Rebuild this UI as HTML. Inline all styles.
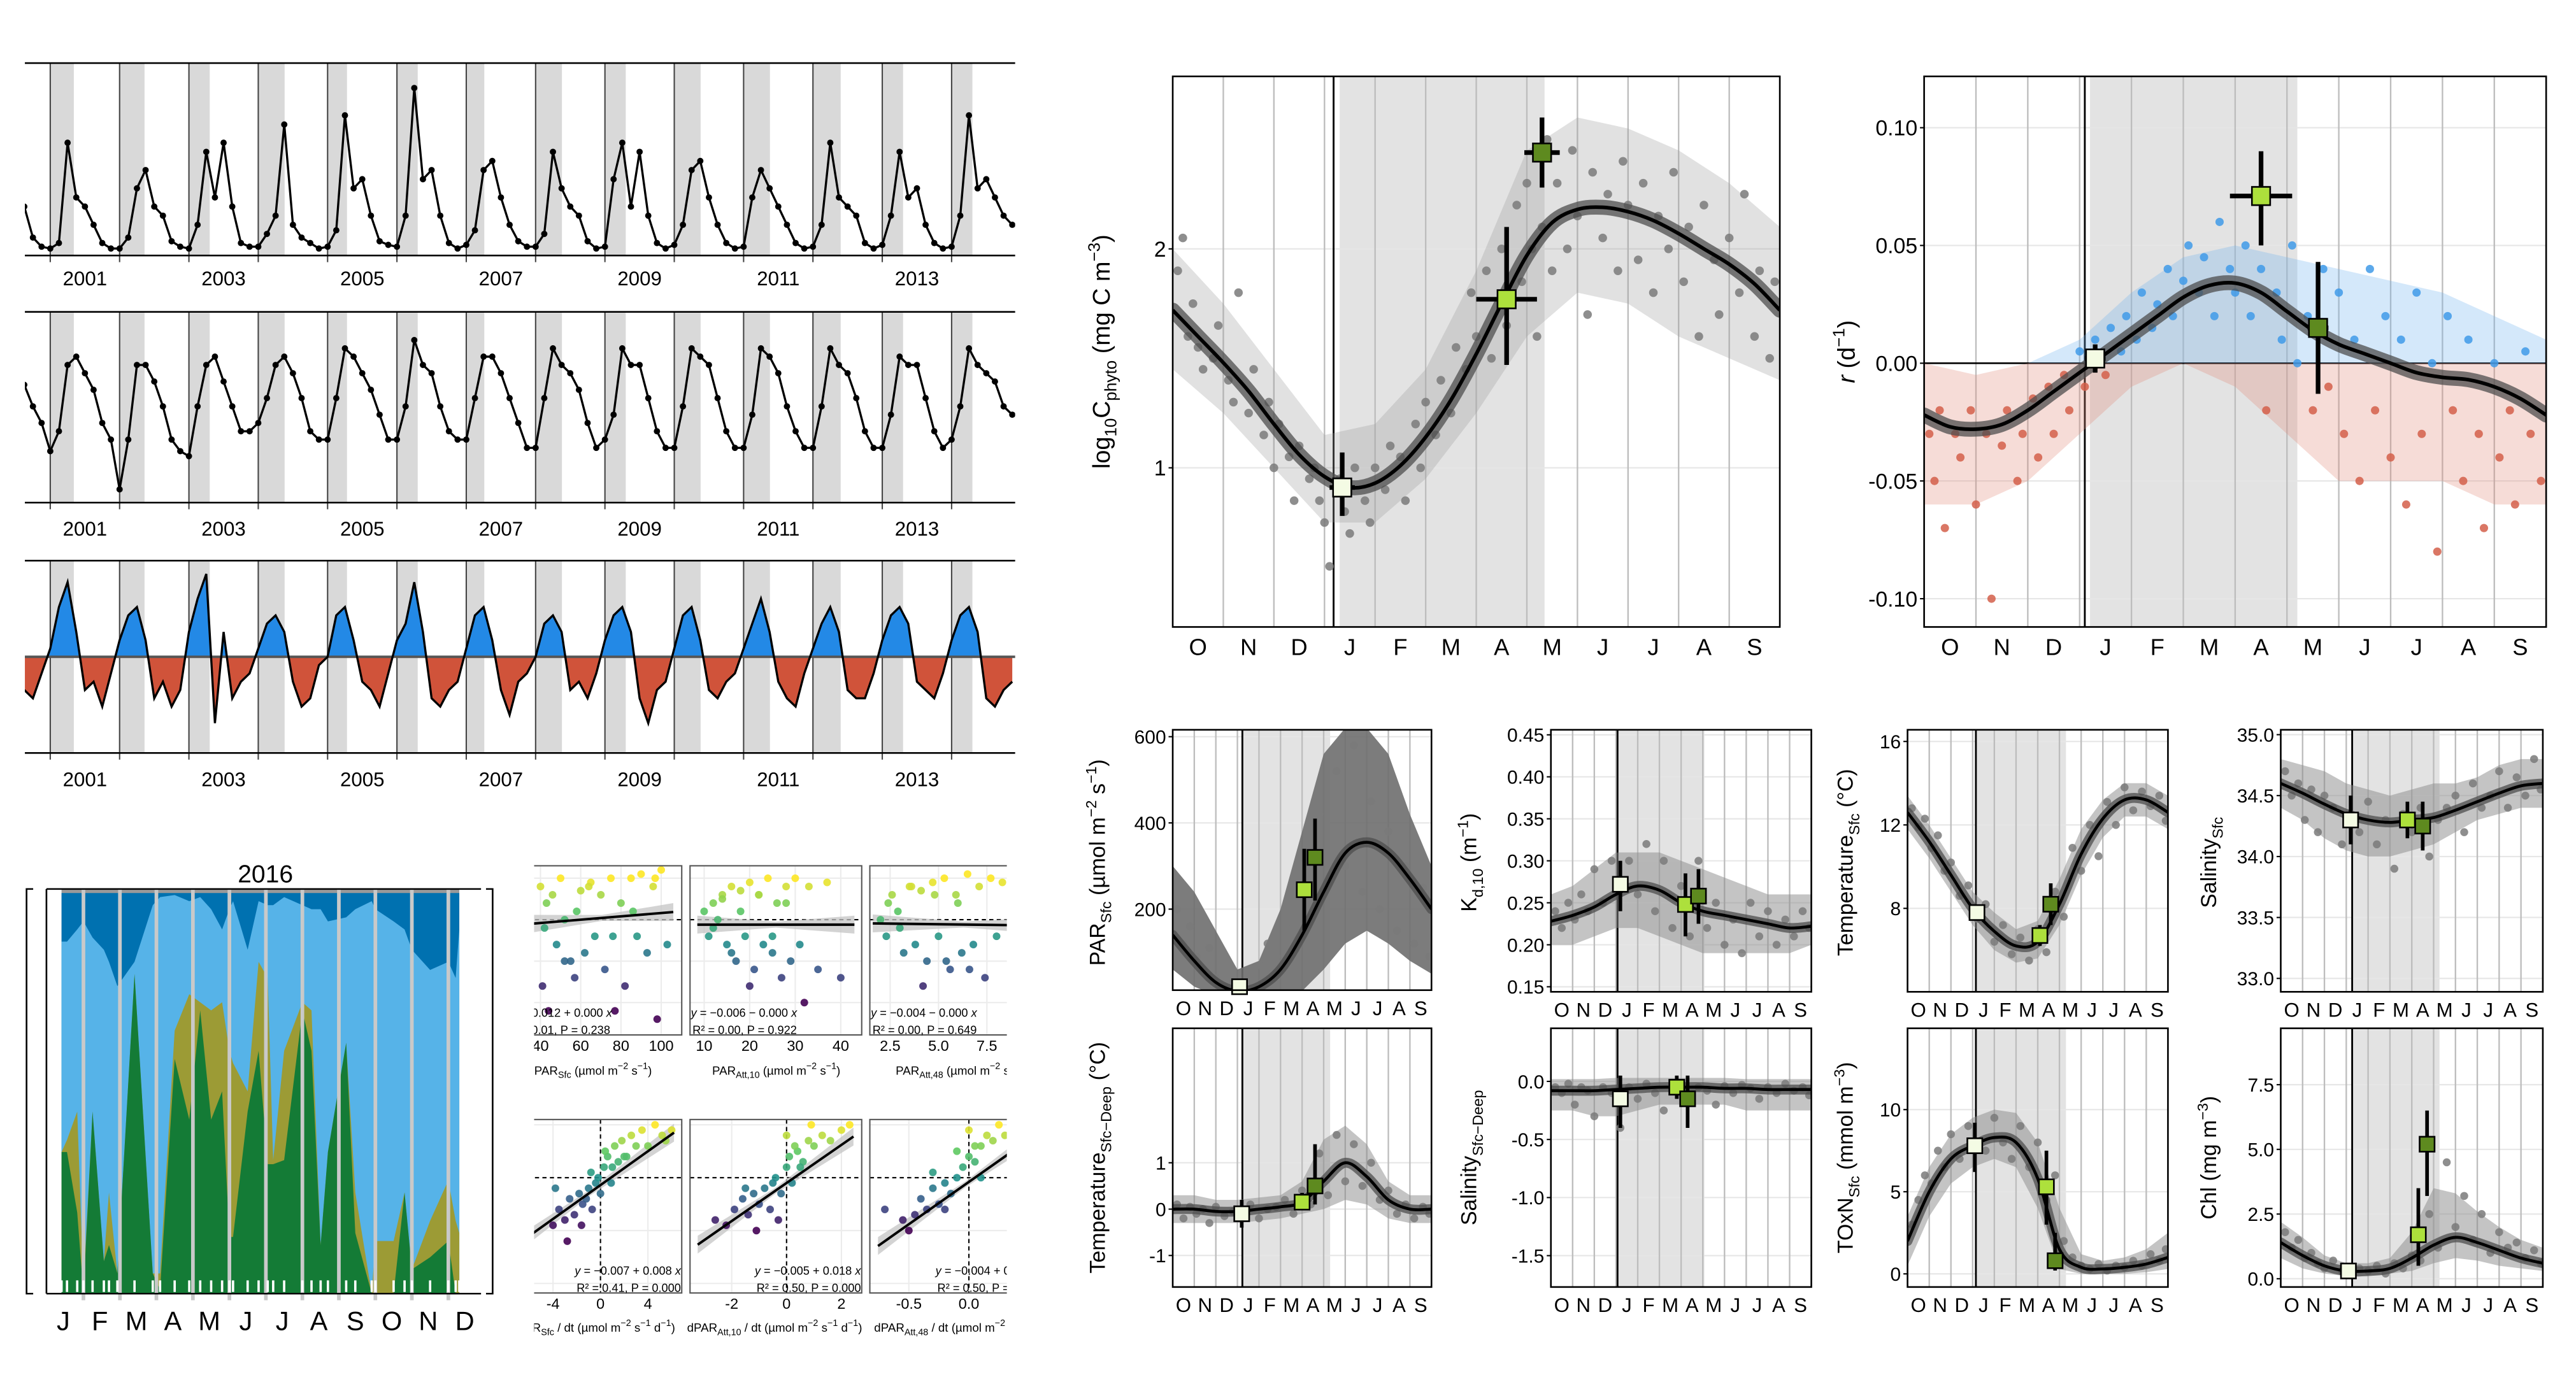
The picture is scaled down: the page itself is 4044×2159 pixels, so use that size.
<!DOCTYPE html>
<html><head><meta charset="utf-8"><title>Phytoplankton seasonal figure</title>
<style>
html,body{margin:0;padding:0;background:#fff;}
svg{display:block;font-family:"Liberation Sans",sans-serif;}
</style></head>
<body>
<svg id="fig" xmlns="http://www.w3.org/2000/svg" width="4044" height="2159" viewBox="0 0 1553 829">
<rect x="0" y="0" width="1553" height="829" fill="#fff"/>
<defs>
<clipPath id="clipMid"><rect x="322" y="500" width="285" height="320"/></clipPath>
</defs>
<text x="160" y="532" font-size="15" text-anchor="middle">2016</text>
<text transform="translate(669,212) rotate(-90)" font-size="14.5" text-anchor="middle">log<tspan font-size="10" dy="4">10</tspan><tspan dy="-4">C</tspan><tspan font-size="10" dy="4">phyto</tspan><tspan dy="-4"> (mg C m</tspan><tspan font-size="10" dy="-6">−3</tspan><tspan dy="6">)</tspan></text>
<text transform="translate(1118,212) rotate(-90)" font-size="14.5" text-anchor="middle"><tspan font-style="italic">r</tspan> (d<tspan font-size="10" dy="-6">−1</tspan><tspan dy="6">)</tspan></text>
<text transform="translate(666,520) rotate(-90)" font-size="13" text-anchor="middle">PAR<tspan font-size="9" dy="4">Sfc</tspan><tspan dy="-4"> (µmol m</tspan><tspan font-size="9" dy="-5">−2</tspan><tspan dy="5"> s</tspan><tspan font-size="9" dy="-5">−1</tspan><tspan dy="5">)</tspan></text>
<text transform="translate(890,520) rotate(-90)" font-size="13" text-anchor="middle">K<tspan font-size="9" dy="4">d,10</tspan><tspan dy="-4"> (m</tspan><tspan font-size="9" dy="-5">−1</tspan><tspan dy="5">)</tspan></text>
<text transform="translate(1117,520) rotate(-90)" font-size="13" text-anchor="middle">Temperature<tspan font-size="9" dy="4">Sfc</tspan><tspan dy="-4"> (°C)</tspan></text>
<text transform="translate(1336,520) rotate(-90)" font-size="13" text-anchor="middle">Salinity<tspan font-size="9" dy="4">Sfc</tspan></text>
<text transform="translate(666,698) rotate(-90)" font-size="13" text-anchor="middle">Temperature<tspan font-size="9" dy="4">Sfc−Deep</tspan><tspan dy="-4"> (°C)</tspan></text>
<text transform="translate(890,698) rotate(-90)" font-size="13" text-anchor="middle">Salinity<tspan font-size="9" dy="4">Sfc−Deep</tspan></text>
<text transform="translate(1117,698) rotate(-90)" font-size="13" text-anchor="middle">TOxN<tspan font-size="9" dy="4">Sfc</tspan><tspan dy="-4"> (mmol m</tspan><tspan font-size="9" dy="-5">−3</tspan><tspan dy="5">)</tspan></text>
<text transform="translate(1336,698) rotate(-90)" font-size="13" text-anchor="middle">Chl (mg m<tspan font-size="9" dy="-5">−3</tspan><tspan dy="5">)</tspan></text>
<g id="midLabels" clip-path="url(#clipMid)" font-size="7.2">
<text x="393" y="648" text-anchor="end">PAR<tspan font-size="5.5" dy="2">Sfc</tspan><tspan dy="-2"> (µmol m</tspan><tspan font-size="5.5" dy="-3.5">−2</tspan><tspan dy="3.5"> s</tspan><tspan font-size="5.5" dy="-3.5">−1</tspan><tspan dy="3.5">)</tspan></text>
<text x="468" y="648" text-anchor="middle">PAR<tspan font-size="5.5" dy="2">Att,10</tspan><tspan dy="-2"> (µmol m</tspan><tspan font-size="5.5" dy="-3.5">−2</tspan><tspan dy="3.5"> s</tspan><tspan font-size="5.5" dy="-3.5">−1</tspan><tspan dy="3.5">)</tspan></text>
<text x="540" y="648">PAR<tspan font-size="5.5" dy="2">Att,48</tspan><tspan dy="-2"> (µmol m</tspan><tspan font-size="5.5" dy="-3.5">−2</tspan><tspan dy="3.5"> s</tspan><tspan font-size="5.5" dy="-3.5">−1</tspan><tspan dy="3.5">)</tspan></text>
<text x="407" y="803" text-anchor="end">dPAR<tspan font-size="5.5" dy="2">Sfc</tspan><tspan dy="-2"> / dt (µmol m</tspan><tspan font-size="5.5" dy="-3.5">−2</tspan><tspan dy="3.5"> s</tspan><tspan font-size="5.5" dy="-3.5">−1</tspan><tspan dy="3.5"> d</tspan><tspan font-size="5.5" dy="-3.5">−1</tspan><tspan dy="3.5">)</tspan></text>
<text x="467" y="803" text-anchor="middle">dPAR<tspan font-size="5.5" dy="2">Att,10</tspan><tspan dy="-2"> / dt (µmol m</tspan><tspan font-size="5.5" dy="-3.5">−2</tspan><tspan dy="3.5"> s</tspan><tspan font-size="5.5" dy="-3.5">−1</tspan><tspan dy="3.5"> d</tspan><tspan font-size="5.5" dy="-3.5">−1</tspan><tspan dy="3.5">)</tspan></text>
<text x="527" y="803">dPAR<tspan font-size="5.5" dy="2">Att,48</tspan><tspan dy="-2"> / dt (µmol m</tspan><tspan font-size="5.5" dy="-3.5">−2</tspan><tspan dy="3.5"> s</tspan><tspan font-size="5.5" dy="-3.5">−1</tspan><tspan dy="3.5"> d</tspan><tspan font-size="5.5" dy="-3.5">−1</tspan><tspan dy="3.5">)</tspan></text>
</g>
<g id="eqLabels" clip-path="url(#clipMid)" font-size="7">
<text x="305" y="613"><tspan font-style="italic">y</tspan> = −0.012 + 0.000 <tspan font-style="italic">x</tspan></text>
<text x="305" y="623.5">R² = 0.01, P = 0.238</text>
<text x="416.5" y="613"><tspan font-style="italic">y</tspan> = −0.006 − 0.000 <tspan font-style="italic">x</tspan></text>
<text x="417.5" y="623.5">R² = 0.00, P = 0.922</text>
<text x="525" y="613"><tspan font-style="italic">y</tspan> = −0.004 − 0.000 <tspan font-style="italic">x</tspan></text>
<text x="526" y="623.5">R² = 0.00, P = 0.649</text>
<text x="410.5" y="768.5" text-anchor="end"><tspan font-style="italic">y</tspan> = −0.007 + 0.008 <tspan font-style="italic">x</tspan></text>
<text x="410.5" y="779" text-anchor="end">R² = 0.41, P = 0.000</text>
<text x="519" y="768.5" text-anchor="end"><tspan font-style="italic">y</tspan> = −0.005 + 0.018 <tspan font-style="italic">x</tspan></text>
<text x="519" y="779" text-anchor="end">R² = 0.50, P = 0.000</text>
<text x="628" y="768.5" text-anchor="end"><tspan font-style="italic">y</tspan> = −0.004 + 0.080 <tspan font-style="italic">x</tspan></text>
<text x="628" y="779" text-anchor="end">R² = 0.50, P = 0.000</text>
</g>
</svg>
<script>
// ===== DATA =====
const tsStart = 0.625;
const tsStep = 0.125;
const tsChl = [.25,.08,.03,
 .02,.05,.6,.3,.25,.15,.05,.02, .02,.08,.35,.45,.25,.2,.06,.03, .02,.15,.55,.3,.6,.25,.05,.03,
 .03,.1,.2,.7,.15,.08,.05,.02, .03,.12,.75,.35,.4,.2,.06,.04, .03,.2,.9,.4,.45,.2,.05,.02,
 .04,.12,.45,.5,.3,.15,.06,.03, .03,.1,.55,.35,.25,.2,.06,.02, .03,.4,.6,.25,.55,.2,.05,.02,
 .04,.15,.45,.5,.3,.15,.05,.02, .03,.3,.45,.35,.25,.15,.05,.02, .03,.15,.6,.3,.25,.2,.05,.02,
 .04,.2,.55,.3,.35,.15,.05,.02, .03,.2,.75,.35,.4,.3,.2,.15];
const tsLog = [.68,.55,.45,
 .28,.4,.8,.85,.75,.65,.45,.35, .05,.35,.8,.8,.7,.55,.35,.28, .25,.55,.8,.85,.7,.55,.4,.4,
 .45,.6,.8,.85,.75,.6,.4,.35, .35,.6,.9,.85,.75,.65,.5,.35, .35,.55,.95,.8,.75,.55,.4,.35,
 .35,.6,.85,.85,.75,.6,.45,.3, .3,.6,.9,.8,.75,.65,.45,.3, .35,.5,.9,.8,.8,.6,.4,.3,
 .3,.55,.9,.85,.8,.6,.4,.3, .3,.5,.9,.85,.75,.55,.4,.3, .3,.55,.9,.8,.75,.6,.4,.3,
 .3,.5,.85,.8,.8,.6,.4,.3, .35,.55,.9,.8,.75,.7,.55,.5];
const tsRate = [-.4,-.5,-.2,
 .1,.6,.9,.3,-.4,-.3,-.6,-.2, .2,.5,.6,.2,-.5,-.3,-.6,-.4, .3,.7,1.0,-.8,.3,-.5,-.3,-.2,
 .1,.4,.5,.3,-.3,-.6,-.5,-.1, .0,.5,.6,.2,-.3,-.4,-.6,-.2, .2,.4,.9,.3,-.5,-.6,-.4,-.3,
 .1,.5,.6,.2,-.4,-.7,-.3,-.2, .0,.4,.5,.3,-.4,-.3,-.5,-.2, .2,.5,.6,.3,-.5,-.8,-.4,-.3,
 .1,.5,.6,.2,-.4,-.5,-.3,-.2, .1,.4,.7,.3,-.3,-.5,-.6,-.2, .1,.4,.6,.3,-.4,-.5,-.5,-.2,
 .2,.5,.6,.4,-.3,-.4,-.5,-.2, .2,.5,.6,.3,-.5,-.6,-.4,-.3];
const tsYears = [2001,2002,2003,2004,2005,2006,2007,2008,2009,2010,2011,2012,2013,2014];
const tsBandLen = [0.34,0.36,0.3,0.38,0.28,0.3,0.26,0.38,0.3,0.38,0.38,0.4,0.3,0.3];
const tsYearLabels = ['2001','2003','2005','2007','2009','2011','2013'];

const areaM = [0.4,0.55,0.83,1.0,1.25,1.56,1.7,1.93,2.4,2.9,3.1,3.5,3.9,4.2,4.5,4.8,5.0,5.1,5.5,5.8,6.05,6.2,6.5,7.0,7.25,7.5,7.7,8.2,8.45,8.9,9.0,9.5,9.8,10.0,10.5,11.0,11.2,11.3];
const areaG = [.35,.35,.2,0,.45,.08,.12,.05,.79,.05,.01,.58,.43,.7,.43,.5,.14,.14,.45,.6,.32,.32,.33,.7,.6,.12,.35,.62,.15,0,0,0,.25,.06,.09,.13,0,0];
const areaO = [.35,.38,.45,.02,.45,.08,.25,.05,.79,.05,.05,.65,.74,.72,.7,.72,.6,.57,.5,.82,.78,.33,.6,.72,.7,.12,.35,.62,.25,0,.13,.13,.25,.06,.18,.28,.18,.15];
const areaLB = [.87,.87,.9,.92,.88,.85,.82,.76,.82,.96,.98,.985,.97,.98,.95,.9,.95,.97,.85,.97,.96,.96,.98,.96,.95,.95,.92,.93,.95,.97,.95,.92,.9,.85,.8,.82,.78,.9];
const areaMonthLabels = ['J','F','M','A','M','J','J','A','S','O','N','D'];

const sc1x=[40,42,44,46,48,50,52,55,57,60,62,65,67,70,72,75,77,80,82,85,88,90,93,96,98,100,103,41,43,58,76,97,52,64,86];
const sc1y=[0.04,-0.01,-0.11,0.03,-0.03,0.05,0.0,-0.05,-0.07,0.035,-0.04,0.045,-0.02,0.03,-0.06,0.05,-0.11,0.02,-0.08,0.05,-0.02,0.055,-0.04,0.04,-0.12,0.06,-0.03,-0.08,0.02,0.01,-0.02,0.05,-0.05,0.04,0.01];
const sc2x=[10,11,12,13,14,15,16,17,18,19,20,21,22,23,24,25,26,27,28,29,30,31,33,35,37,40,12,14,16,18,20,22,25,28,32];
const sc2y=[0.01,-0.02,0.02,0.0,0.03,-0.03,0.04,-0.05,0.035,-0.02,0.045,-0.06,0.03,-0.03,0.05,-0.04,0.02,-0.07,0.04,-0.05,0.05,-0.03,0.04,-0.06,0.045,-0.07,-0.01,0.025,-0.04,0.01,-0.08,0.03,-0.02,0.02,-0.1];
const sc3x=[2.0,2.3,2.6,2.9,3.2,3.5,3.8,4.1,4.4,4.7,5.0,5.3,5.6,5.9,6.2,6.5,6.8,7.1,7.4,7.7,8.0,8.3,2.4,3.0,3.6,4.2,4.8,5.4,6.0,6.6];
const sc3y=[0.0,-0.02,0.03,0.01,-0.04,0.04,-0.03,0.035,-0.05,0.045,-0.02,0.05,-0.06,0.03,-0.04,0.055,-0.03,0.04,-0.07,0.05,-0.02,0.045,0.02,-0.01,0.04,-0.08,0.03,-0.05,0.02,-0.06];
const sc4x=[-4,-3.5,-3,-2.6,-2.2,-1.8,-1.5,-1.2,-1,-0.7,-0.4,-0.2,0,0.3,0.6,0.9,1.2,1.5,1.8,2.2,2.6,3,3.5,4,4.6,5.2,6,-2.8,-1.6,-0.8,0.4,1.0,2.0,-3.8,5.5];
const sc4y=[-0.045,-0.03,-0.04,-0.02,-0.035,-0.015,-0.025,-0.02,-0.01,-0.03,-0.005,0.0,-0.015,0.01,0.02,-0.005,0.03,0.015,0.035,0.02,0.04,0.03,0.045,0.03,0.05,0.04,0.045,-0.06,-0.045,0.005,0.025,0.01,0.02,-0.01,0.035];
const sc5x=[-2.6,-2.2,-1.9,-1.6,-1.4,-1.2,-1.0,-0.8,-0.6,-0.4,-0.2,0,0.1,0.2,0.4,0.6,0.8,1.0,1.3,1.6,2.0,2.3,-1.1,-0.5,0.0,0.3,0.5,0.9,-1.5,-0.3];
const sc5y=[-0.04,-0.045,-0.03,-0.02,-0.035,-0.015,-0.025,-0.01,-0.03,0.0,-0.015,0.01,0.02,-0.005,0.025,0.015,0.035,0.03,0.04,0.035,0.045,0.05,-0.05,-0.005,0.04,0.03,0.01,0.05,-0.01,-0.04];
const sc6x=[-0.7,-0.55,-0.45,-0.4,-0.35,-0.3,-0.25,-0.2,-0.15,-0.1,-0.05,0,0.05,0.1,0.15,0.2,0.25,0.3,-0.3,-0.2,-0.1,0.0,0.1,-0.5,0.05];
const sc6y=[-0.03,-0.04,-0.035,-0.02,-0.03,-0.01,-0.025,-0.005,-0.015,0.0,0.01,0.02,0.015,0.03,0.04,0.035,0.05,0.04,0.005,-0.03,0.025,0.045,0.0,-0.05,0.03];
const regInt = [-0.012,-0.006,-0.004,-0.007,-0.005,-0.004];
const regSlope = [0.0002,0.0,-0.0003,0.008,0.018,0.08];

const monthLabels = ['O','N','D','J','F','M','A','M','J','J','A','S'];
const curveM = [0,1,2,3,4,5,6,7,8,9,10,11,12];
const bigCurveM = [0,0.5,1,1.5,2,2.5,3,3.5,4,4.5,5,5.5,6,6.5,7,7.5,8,8.5,9,9.5,10,10.5,11,11.5,12];
const cphytoCurve = [1.72,1.6,1.48,1.35,1.2,1.06,0.96,0.91,0.93,1.01,1.14,1.31,1.52,1.75,1.97,2.12,2.18,2.19,2.17,2.13,2.07,2.0,1.93,1.84,1.72];
const cphytoLo = [1.45,1.25,1.0,0.75,0.75,0.95,1.25,1.6,1.8,1.75,1.6,1.5,1.4];
const cphytoHi = [2.0,1.75,1.45,1.15,1.2,1.45,1.9,2.45,2.6,2.55,2.45,2.3,2.1];
const cphytoX = [0.1,0.2,0.3,0.4,0.5,0.6,0.8,0.9,1.1,1.2,1.3,1.5,1.6,1.8,1.9,2.0,2.1,2.3,2.4,2.5,2.7,2.8,2.9,3.0,3.1,3.3,3.4,3.5,3.6,3.8,3.9,4.0,4.2,4.3,4.5,4.6,4.8,4.9,5.0,5.2,5.3,5.5,5.6,5.8,5.9,6.0,6.2,6.3,6.5,6.6,6.8,6.9,7.0,7.1,7.2,7.3,7.4,7.5,7.6,7.8,7.9,8.0,8.2,8.3,8.5,8.6,8.8,8.9,9.0,9.2,9.3,9.5,9.6,9.8,9.9,10.1,10.2,10.4,10.5,10.7,10.8,11.0,11.2,11.3,11.5,11.6,11.8,11.9];
const cphytoY = [1.9,2.05,1.6,1.75,1.55,1.45,1.5,1.65,1.4,1.3,1.8,1.25,1.45,1.15,1.3,1.0,1.2,1.05,0.85,1.1,0.95,1.0,0.85,0.75,0.55,0.95,0.8,0.7,1.0,0.85,0.75,1.0,0.9,1.1,1.05,0.85,1.2,1.0,1.3,1.15,1.4,1.25,1.55,1.45,1.8,1.6,1.9,1.5,2.0,1.65,2.2,1.85,2.3,2.0,1.6,2.1,2.5,1.9,2.3,2.0,2.45,2.15,1.7,2.35,2.05,2.25,1.9,2.4,2.2,1.95,2.3,1.8,2.15,2.0,2.35,1.85,2.1,1.6,2.2,1.95,1.7,2.05,1.8,2.25,1.6,1.9,1.5,1.85];
const cphytoMarkM=[3.35,6.6,7.3], cphytoMarkV=[0.91,1.77,2.44], cphytoMarkXE=[0.25,0.6,0.35], cphytoMarkLo=[0.78,1.47,2.28], cphytoMarkHi=[1.07,2.1,2.6];
const rCurve = [-0.022,-0.027,-0.028,-0.026,-0.02,-0.012,-0.004,0.004,0.012,0.02,0.028,0.033,0.034,0.03,0.022,0.014,0.008,0.004,0.0,-0.004,-0.006,-0.007,-0.01,-0.015,-0.022];
const rLo = [-0.06,-0.06,-0.05,-0.03,-0.01,0.0,-0.01,-0.03,-0.05,-0.05,-0.05,-0.06,-0.06];
const rHi = [0.0,-0.005,0.0,0.01,0.03,0.045,0.05,0.045,0.04,0.035,0.03,0.02,0.01];
const rX = [0.1,0.2,0.3,0.4,0.6,0.7,0.9,1.0,1.2,1.3,1.5,1.6,1.8,1.9,2.1,2.2,2.4,2.5,2.7,2.8,3.0,3.1,3.3,3.5,3.6,3.8,3.9,4.1,4.2,4.4,4.5,4.7,4.8,5.0,5.1,5.3,5.4,5.6,5.7,5.9,6.0,6.2,6.3,6.5,6.6,6.8,6.9,7.1,7.2,7.4,7.5,7.7,7.8,8.0,8.1,8.3,8.4,8.6,8.7,8.9,9.0,9.2,9.3,9.5,9.6,9.8,9.9,10.1,10.2,10.4,10.5,10.7,10.8,11.0,11.1,11.3,11.4,11.6,11.7,11.9];
const rY = [-0.03,-0.05,-0.02,-0.07,-0.03,-0.04,-0.02,-0.06,-0.03,-0.1,-0.035,-0.02,-0.05,-0.03,-0.015,-0.04,-0.01,-0.03,-0.005,-0.02,0.005,-0.01,0.01,-0.005,0.015,0.005,0.02,0.01,0.03,0.015,0.025,0.04,0.02,0.035,0.05,0.03,0.045,0.02,0.06,0.04,0.03,0.05,0.02,0.04,-0.02,0.03,0.01,0.05,0.0,0.02,-0.02,0.04,-0.01,0.03,-0.03,0.01,-0.05,0.04,-0.02,0.02,-0.04,0.01,-0.06,0.03,-0.03,0.0,-0.08,0.02,-0.02,-0.05,0.01,-0.03,-0.07,0.0,-0.04,-0.02,-0.06,0.005,-0.03,-0.05];
const rMarkM=[3.3,6.5,7.6], rMarkV=[0.002,0.071,0.015], rMarkXE=[0.2,0.6,0.2], rMarkLo=[-0.004,0.05,-0.013], rMarkHi=[0.008,0.09,0.043];

const smallM = [0.2,0.5,0.8,1.1,1.4,1.7,2.0,2.4,2.8,3.2,3.6,4.0,4.4,4.8,5.2,5.6,6.0,6.4,6.8,7.2,7.6,8.0,8.4,8.8,9.2,9.6,10.0,10.4,10.8,11.2,11.6,11.9];
const parY=[200,120,160,90,60,110,40,20,30,10,30,70,120,90,200,160,300,220,420,260,520,300,580,240,450,200,380,150,300,120,250,90];
const parCurve=[140,80,30,10,20,60,140,240,330,355,330,270,200];
const parLo=[60,20,0,0,0,0,10,60,120,150,120,80,50];
const parHi=[300,240,150,60,80,200,380,560,620,620,560,420,300];
const kdY=[0.24,0.22,0.25,0.23,0.26,0.24,0.29,0.25,0.3,0.27,0.3,0.26,0.32,0.24,0.3,0.22,0.27,0.21,0.3,0.22,0.25,0.2,0.23,0.19,0.25,0.21,0.24,0.2,0.23,0.21,0.24,0.22];
const kdCurve=[0.228,0.235,0.245,0.26,0.27,0.265,0.25,0.24,0.235,0.23,0.225,0.22,0.222];
const kdLo=[0.2,0.2,0.21,0.22,0.22,0.21,0.2,0.19,0.19,0.19,0.19,0.19,0.2];
const kdHi=[0.26,0.27,0.29,0.31,0.31,0.31,0.3,0.29,0.28,0.27,0.26,0.26,0.26];
const tempY=[12.8,11.9,12.3,10.9,11.5,9.8,10.2,8.6,9.1,7.5,8.2,6.4,7.2,5.8,6.6,5.5,7.0,5.9,8.8,7.6,10.9,9.8,12.0,10.5,13.1,12.0,13.8,12.7,13.6,12.9,13.4,12.2];
const tempCurve=[12.6,11.2,9.6,8.0,6.9,6.2,6.4,8.2,10.6,12.3,13.2,13.2,12.6];
const tempLo=[11.8,10.4,8.8,7.2,6.0,5.4,5.6,7.2,9.6,11.4,12.4,12.4,11.8];
const tempHi=[13.4,12.0,10.4,8.8,7.8,7.0,7.4,9.4,11.8,13.2,14.0,14.0,13.4];
const salY=[34.7,34.5,34.6,34.3,34.55,34.2,34.5,34.4,34.1,34.35,34.2,34.45,34.1,34.3,33.9,34.35,34.2,34.4,34.0,34.3,34.4,34.5,34.2,34.6,34.4,34.5,34.7,34.4,34.65,34.5,34.8,34.55];
const salCurve=[34.6,34.52,34.43,34.35,34.3,34.28,34.3,34.32,34.38,34.45,34.52,34.58,34.6];
const salLo=[34.4,34.3,34.15,34.05,34.0,34.0,34.05,34.1,34.2,34.3,34.35,34.4,34.4];
const salHi=[34.8,34.75,34.7,34.6,34.55,34.5,34.55,34.6,34.6,34.65,34.75,34.8,34.8];
const tdY=[0.1,-0.2,0.05,-0.1,0.0,-0.3,0.05,-0.15,-0.05,-0.1,0.1,-0.2,0.0,0.05,0.2,-0.1,0.4,0.1,1.2,0.3,1.6,0.6,1.4,0.5,1.0,0.2,0.4,-0.1,0.1,-0.2,0.05,-0.1];
const tdCurve=[0,0,-0.05,-0.05,0,0.05,0.15,0.6,1.0,0.7,0.2,0,0];
const tdLo=[-0.3,-0.3,-0.3,-0.3,-0.25,-0.2,-0.1,0.0,0.2,0.1,-0.2,-0.3,-0.3];
const tdHi=[0.3,0.3,0.2,0.2,0.25,0.3,0.6,1.5,1.8,1.4,0.6,0.3,0.3];
const sdY=[-0.05,-0.1,-0.02,-0.2,-0.05,-0.08,-0.3,-0.05,-0.1,-0.4,-0.05,-0.15,-0.02,-0.1,-0.25,-0.05,-0.02,-0.12,-0.05,-0.08,-0.2,-0.04,-0.1,-0.03,-0.06,-0.15,-0.05,-0.1,-0.02,-0.08,-0.05,-0.12];
const sdCurve=[-0.08,-0.08,-0.08,-0.07,-0.06,-0.05,-0.05,-0.05,-0.06,-0.06,-0.07,-0.07,-0.07];
const sdLo=[-0.25,-0.25,-0.3,-0.3,-0.25,-0.2,-0.2,-0.2,-0.2,-0.25,-0.25,-0.25,-0.25];
const sdHi=[0.02,0.02,0.02,0.03,0.03,0.03,0.03,0.03,0.03,0.02,0.02,0.02,0.02];
const toxnY=[3,4.5,6,5.5,7.5,6.5,8.5,7,9,8,7.5,9.5,8,7,9,6.5,8,4.5,6,2,1,0.5,0.3,0.6,0.2,0.5,0.4,0.8,0.5,1.2,0.8,1.5];
const toxnCurve=[2,5,7,7.8,8.3,8,5.8,1.5,0.4,0.3,0.4,0.6,1];
const toxnLo=[0.5,3.5,5.5,6.5,7,6.5,4,0.3,0,0,0,0.1,0.3];
const toxnHi=[3.5,6.5,8.5,9.5,10,9.8,8,4,1.2,0.8,1,1.5,2.5];
const chlY=[1.8,1.2,1.5,0.8,1.0,0.6,0.4,0.7,0.3,0.2,0.4,0.3,0.5,0.2,0.6,0.4,0.9,0.7,2.5,1.2,4.5,2.0,3.2,1.5,2.5,1.0,1.8,1.2,1.4,0.8,1.1,0.6];
const chlCurve=[1.4,0.9,0.5,0.3,0.3,0.4,0.8,1.3,1.6,1.4,1.1,0.8,0.6];
const chlLo=[0.8,0.4,0.2,0.1,0.1,0.2,0.3,0.6,0.8,0.7,0.5,0.4,0.3];
const chlHi=[2.2,1.6,0.9,0.6,0.6,0.8,1.8,3.5,3.3,2.6,2.0,1.5,1.2];
const parMarkM=[3.1,6.1,6.6], parMarkV=[20,245,320], parMarkLo=[15,150,220], parMarkHi=[25,340,410];
const kdMarkM=[3.2,6.2,6.8], kdMarkV=[0.272,0.248,0.258], kdMarkLo=[0.24,0.21,0.225], kdMarkHi=[0.3,0.285,0.29];
const tempMarkM=[3.2,6.1,6.6], tempMarkV=[7.8,6.7,8.2], tempMarkLo=[7.5,6.2,7.2], tempMarkHi=[8.1,7.2,9.2];
const salMarkM=[3.2,5.8,6.5], salMarkV=[34.3,34.3,34.25], salMarkLo=[34.1,34.15,34.05], salMarkHi=[34.5,34.45,34.45];
const tdMarkM=[3.2,6.0,6.6], tdMarkV=[-0.1,0.15,0.5], tdMarkLo=[-0.4,0.0,0.1], tdMarkHi=[0.2,0.35,1.4];
const sdMarkM=[3.2,5.8,6.3], sdMarkV=[-0.15,-0.05,-0.15], sdMarkLo=[-0.4,-0.15,-0.4], sdMarkHi=[0.05,0.05,0.05];
const toxnMarkM=[3.1,6.4,6.8], toxnMarkV=[7.8,5.3,0.8], toxnMarkLo=[6.2,3.0,0.2], toxnMarkHi=[9.2,7.5,2.5];
const chlMarkM=[3.1,6.3,6.7], chlMarkV=[0.3,1.7,5.2], chlMarkLo=[0.2,0.5,3.2], chlMarkHi=[0.4,3.5,6.5];
const markColors=['#f4fbe4','#ade03c','#5e8a1f'];

// ===== DRAWING =====
const NS='http://www.w3.org/2000/svg';
const svg=document.getElementById('fig');
function mk(tag,attrs,parent){const e=document.createElementNS(NS,tag);for(const k in attrs)e.setAttribute(k,attrs[k]);(parent||svg).appendChild(e);return e;}
function smooth(pts){
  let d='M'+pts[0][0].toFixed(2)+','+pts[0][1].toFixed(2);
  for(let i=0;i<pts.length-1;i++){
    const p0=pts[Math.max(0,i-1)],p1=pts[i],p2=pts[i+1],p3=pts[Math.min(pts.length-1,i+2)];
    const c1=[p1[0]+(p2[0]-p0[0])/6,p1[1]+(p2[1]-p0[1])/6],c2=[p2[0]-(p3[0]-p1[0])/6,p2[1]-(p3[1]-p1[1])/6];
    d+='C'+c1[0].toFixed(2)+','+c1[1].toFixed(2)+' '+c2[0].toFixed(2)+','+c2[1].toFixed(2)+' '+p2[0].toFixed(2)+','+p2[1].toFixed(2);
  }
  return d;
}
let clipN=0;
function clipRect(x,y,w,h){const id='c'+(clipN++);const cp=mk('clipPath',{id:id},svg.querySelector('defs'));mk('rect',{x:x,y:y,width:w,height:h},cp);return 'url(#'+id+')';}

function tsPanel(vals,yTop,yBot,kind,labelY,nm){
  const g=mk('g',{});
  
  
  const X=t=>30.3+41.8*(t-1);
  const cl=clipRect(15,yTop,597,yBot-yTop);
  tsYears.forEach((yr,i)=>{
    const b=mk('rect',{x:X(yr-2000),y:yTop,width:41.8*tsBandLen[i],height:yBot-yTop,fill:'#d9d9d9','clip-path':cl},g);
    
    
    const l=mk('line',{x1:X(yr-2000),x2:X(yr-2000),y1:yTop,y2:yBot+4,stroke:'#444','stroke-width':0.8},g);
    
    
  });
  const pts=vals.map((v,i)=>{const t=tsStart+i*tsStep;let y;
    if(kind==='chl')y=yBot-2-v*110;else if(kind==='log')y=yBot-3-v*100;else y=(yTop+yBot)/2-v*50;return [X(t),y];});
  if(kind==='rate'){
    const zy=(yTop+yBot)/2;
    const dA='M'+pts[0][0]+','+zy+' '+pts.map(p=>'L'+p[0].toFixed(2)+','+p[1].toFixed(2)).join(' ')+' L'+pts[pts.length-1][0]+','+zy+'Z';
    const cu=clipRect(15,yTop,597,zy-yTop),cd=clipRect(15,zy,597,yBot-zy);
    const pos=mk('path',{d:dA,fill:'#2389e6','clip-path':cu},g);
    
    
    const neg=mk('path',{d:dA,fill:'#d0533a','clip-path':cd},g);
    
    
    const z=mk('line',{x1:15,x2:612,y1:zy,y2:zy,stroke:'#555','stroke-width':1.5},g);
    
    
  }
  const ln=mk('path',{d:'M'+pts.map(p=>p[0].toFixed(2)+','+p[1].toFixed(2)).join(' L'),fill:'none',stroke:'#000','stroke-width':1.3,'clip-path':cl},g);
  
  
  if(kind!=='rate'){pts.forEach(p=>{const c=mk('circle',{cx:p[0],cy:p[1],r:1.9,fill:'#000','clip-path':cl},g);
    
    });}
  [yTop,yBot].forEach(yy=>{const a=mk('line',{x1:15,x2:612,y1:yy,y2:yy,stroke:'#000','stroke-width':1},g);
    
    });
  tsYearLabels.forEach(s=>{const t=mk('text',{x:X(+s-2000+0.5),y:labelY,'font-size':12,'text-anchor':'middle'},g);t.textContent=s;
    
    });
}
tsPanel(tsChl,38,154,'chl',172,'chl-time-series');
tsPanel(tsLog,188,303,'log',323,'log-time-series');
tsPanel(tsRate,338,454,'rate',474,'rate-time-series');

(function(){
  const g=mk('g',{});
  
  
  const X=m=>28.3+22*m, y0=536, y1=780, Y=f=>y1-f*(y1-y0);
  const layer=(arr,col,nm)=>{
    let d='M'+X(areaM[0])+','+y1;areaM.forEach((m,i)=>{d+=' L'+X(m).toFixed(2)+','+Y(arr[i]).toFixed(2);});
    d+=' L'+X(areaM[areaM.length-1])+','+y1+'Z';
    const p=mk('path',{d:d,fill:col},g);
    
    
  };
  const gr=mk('rect',{x:X(areaM[0]),y:y0,width:X(areaM[areaM.length-1])-X(areaM[0]),height:y1-y0,fill:'#999'},g);
  
  
  const db=mk('rect',{x:X(areaM[0]),y:Y(0.99),width:X(areaM[areaM.length-1])-X(areaM[0]),height:y1-Y(0.99),fill:'#0071b0'},g);
  
  
  layer(areaLB,'#56b3e8','light-blue-layer');
  layer(areaO,'#9c9b35','olive-layer');
  layer(areaG,'#147b36','green-layer');
  for(let m=1;m<12;m++){const l=mk('line',{x1:X(m),x2:X(m),y1:y0,y2:y1+4,stroke:'#c9c9c9','stroke-width':2.2},g);
    
    }
  areaM.forEach(m=>{const r=mk('line',{x1:X(m),x2:X(m),y1:y1-8,y2:y1-1,stroke:'#fff','stroke-width':1.4},g);
    
    });
  const f=mk('path',{d:`M28,${y0} H290 M28,${y1} H290 M28,${y0} V${y1}`,stroke:'#000','stroke-width':1,fill:'none'},g);
  
  
  const br=mk('path',{d:`M20,${y0} H16 V${y1} H20 M293,${y0} H297 V${y1} H293`,stroke:'#000','stroke-width':1,fill:'none'},g);
  
  
  areaMonthLabels.forEach((s,i)=>{const t=mk('text',{x:X(i+0.45),y:802,'font-size':16,'text-anchor':'middle'},g);t.textContent=s;
    
    });
})();

const vir=['#440154','#3b528b','#21918c','#5ec962','#fde725'];
function hx(c){return [parseInt(c.slice(1,3),16),parseInt(c.slice(3,5),16),parseInt(c.slice(5,7),16)];}
function viridis(t){t=Math.max(0,Math.min(1,t));const s=t*4,i=Math.min(3,Math.floor(s)),f=s-i;const a=hx(vir[i]),b=hx(vir[i+1]);
  return 'rgb('+a.map((v,k)=>Math.round(v+(b[k]-v)*f)).join(',')+')';}
const midLayer=mk('g',{'clip-path':'url(#clipMid)'});
svg.insertBefore(midLayer,document.getElementById('midLabels'));
function scatPanel(o){
  const g=mk('g',{},midLayer);
  
  
  const X=v=>o.x0+(v-o.xmin)/(o.xmax-o.xmin)*(o.x1-o.x0), Y=v=>o.y1-(v-o.ymin)/(o.ymax-o.ymin)*(o.y1-o.y0);
  const cl=clipRect(o.x0,o.y0,o.x1-o.x0,o.y1-o.y0);
  mk('rect',{x:o.x0,y:o.y0,width:o.x1-o.x0,height:o.y1-o.y0,fill:'#fff'},g);
  o.grid.forEach(v=>{const l=mk('line',{x1:X(v),x2:X(v),y1:o.y0,y2:o.y1,stroke:'#ececec','stroke-width':0.8},g);
    
    });
  o.hgrid.forEach(v=>{const l=mk('line',{x1:o.x0,x2:o.x1,y1:Y(v),y2:Y(v),stroke:'#ececec','stroke-width':0.8},g);
    
    });
  const h=mk('line',{x1:o.x0,x2:o.x1,y1:Y(0),y2:Y(0),stroke:'#000','stroke-width':0.8,'stroke-dasharray':'2.5,2'},g);
  
  
  if(o.vzero){const v=mk('line',{x1:X(0),x2:X(0),y1:o.y0,y2:o.y1,stroke:'#000','stroke-width':0.8,'stroke-dasharray':'2.5,2'},g);
    
    }
  const a=regInt[o.k],b=regSlope[o.k];
  const xa=o.la,xb=o.lb,w=o.band;
  const xm=(xa+xb)/2;
  const band=mk('path',{d:`M${X(xa)},${Y(a+b*xa)-w*1.8} L${X(xm)},${Y(a+b*xm)-w*0.6} L${X(xb)},${Y(a+b*xb)-w*1.8} L${X(xb)},${Y(a+b*xb)+w*1.8} L${X(xm)},${Y(a+b*xm)+w*0.6} L${X(xa)},${Y(a+b*xa)+w*1.8}Z`,fill:'#c4c4c4',opacity:0.75,'clip-path':cl},g);
  
  
  o.xs.forEach((xv,i)=>{if(i>=o.ys.length)return;const yv=o.ys[i];
    const c=mk('circle',{cx:X(xv),cy:Y(yv),r:2.3,fill:viridis((yv-o.cmin)/(o.cmax-o.cmin)),opacity:0.9,'clip-path':cl},g);
    
    });
  const rl=mk('line',{x1:X(xa),y1:Y(a+b*xa),x2:X(xb),y2:Y(a+b*xb),stroke:'#000','stroke-width':1.5,'clip-path':cl},g);
  
  
  const fr=mk('rect',{x:o.x0,y:o.y0,width:o.x1-o.x0,height:o.y1-o.y0,fill:'none',stroke:'#555','stroke-width':0.8},g);
  
  
  o.ticks.forEach((v,i)=>{const t=mk('text',{x:X(v),y:o.y1+9.5,'font-size':9,'text-anchor':'middle'},g);t.textContent=o.tickLabels[i];
    
    });
}
const topY=[-0.1,-0.05,0.05], botY=[-0.1,-0.05,0.05];
scatPanel({name:'scatter-par-sfc',k:0,x0:300,x1:411,y0:522,y1:624,xmin:18.7,xmax:110.2,ymin:-0.139,ymax:0.065,la:35,lb:106,xs:sc1x,ys:sc1y,cmin:-0.1,cmax:0.05,grid:[40,60,80,100],hgrid:topY,ticks:[40,60,80,100],tickLabels:['40','60','80','100'],band:3});
scatPanel({name:'scatter-par-att10',k:1,x0:416,x1:519.5,y0:522,y1:624,xmin:6.9,xmax:44.6,ymin:-0.139,ymax:0.065,la:8.5,lb:43,xs:sc2x,ys:sc2y,cmin:-0.1,cmax:0.05,grid:[10,20,30,40],hgrid:topY,ticks:[10,20,30,40],tickLabels:['10','20','30','40'],band:3});
scatPanel({name:'scatter-par-att48',k:2,x0:524.4,x1:640,y0:522,y1:624,xmin:1.45,xmax:11.36,ymin:-0.139,ymax:0.065,la:1.6,lb:11,xs:sc3x,ys:sc3y,cmin:-0.1,cmax:0.05,grid:[2.5,5,7.5],hgrid:topY,ticks:[2.5,5,7.5],tickLabels:['2.5','5.0','7.5'],band:3});
scatPanel({name:'scatter-dpar-sfc',k:3,x0:300,x1:411,y0:675,y1:779.6,xmin:-8.67,xmax:6.85,ymin:-0.109,ymax:0.055,la:-8,lb:6.2,xs:sc4x,ys:sc4y,cmin:-0.05,cmax:0.05,grid:[-4,0,4],hgrid:botY,vzero:true,ticks:[-4,0,4],tickLabels:['-4','0','4'],band:3});
scatPanel({name:'scatter-dpar-att10',k:4,x0:416,x1:519.5,y0:675,y1:779.6,xmin:-3.52,xmax:2.74,ymin:-0.109,ymax:0.055,la:-3.24,lb:2.44,xs:sc5x,ys:sc5y,cmin:-0.05,cmax:0.05,grid:[-2,0,2],hgrid:botY,vzero:true,ticks:[-2,0,2],tickLabels:['-2','0','2'],band:3});
scatPanel({name:'scatter-dpar-att48',k:5,x0:524.4,x1:640,y0:675,y1:779.6,xmin:-0.825,xmax:0.772,ymin:-0.109,ymax:0.055,la:-0.757,lb:0.7,xs:sc6x,ys:sc6y,cmin:-0.05,cmax:0.05,grid:[-0.5,0],hgrid:botY,vzero:true,ticks:[-0.5,0],tickLabels:['-0.5','0.0'],band:3});

function season(p){
  const g=mk('g',{});
  
  
  const X=m=>p.x0+m/12*(p.x1-p.x0), Y=v=>p.y1-(v-p.ymin)/(p.ymax-p.ymin)*(p.y1-p.y0);
  const cl=clipRect(p.x0,p.y0,p.x1-p.x0,p.y1-p.y0);
  mk('rect',{x:p.x0,y:p.y0,width:p.x1-p.x0,height:p.y1-p.y0,fill:'#fff'},g);
  const sh=mk('rect',{x:X(p.sh0),y:p.y0,width:X(p.sh1)-X(p.sh0),height:p.y1-p.y0,fill:'#e3e3e3'},g);
  
  
  p.ticks.forEach(v=>{const l=mk('line',{x1:p.x0,x2:p.x1,y1:Y(v),y2:Y(v),stroke:'#e6e6e6','stroke-width':0.8},g);
    
    });
  for(let m=1;m<12;m++){const l=mk('line',{x1:X(m),x2:X(m),y1:p.y0,y2:p.y1,stroke:'#bdbdbd','stroke-width':0.9},g);
    
    }
  if(p.zero){const z=mk('line',{x1:p.x0,x2:p.x1,y1:Y(0),y2:Y(0),stroke:'#000','stroke-width':1},g);
    
    }
  const vl=mk('line',{x1:X(p.vl),x2:X(p.vl),y1:p.y0,y2:p.y1,stroke:'#000','stroke-width':1.1},g);
  
  
  if(p.lo){let d='M';curveM.forEach((m,i)=>{d+=(i?' L':'')+X(m).toFixed(2)+','+Y(p.hi[i]).toFixed(2);});
    for(let i=curveM.length-1;i>=0;i--)d+=' L'+X(curveM[i]).toFixed(2)+','+Y(p.lo[i]).toFixed(2);
    d+='Z';
    if(p.sign){
      const cu=clipRect(p.x0,p.y0,p.x1-p.x0,Y(0)-p.y0),cd=clipRect(p.x0,Y(0),p.x1-p.x0,p.y1-Y(0));
      const gu=mk('g',{'clip-path':cu},g),gd=mk('g',{'clip-path':cd},g);
      const c1=mk('path',{d:d,fill:'#6fb3ee',opacity:p.cop},gu);
      
      
      const c2=mk('path',{d:d,fill:'#e08b7c',opacity:p.cop},gd);
      
      
    } else {
      const c=mk('path',{d:d,fill:p.cfill,opacity:p.cop,'clip-path':cl},g);
      
      
    }}
  p.sx.forEach((m,i)=>{const v=p.sy[i];const col=p.sign?(v>=0?'#3f9ae8':'#d45f4a'):'#7a7a7a';
    const c=mk('circle',{cx:X(m),cy:Y(v),r:p.r,fill:col,opacity:0.85,'clip-path':cl},g);
    
    });
  const pts=p.cm.map((m,i)=>[X(m),Y(p.cy[i])]);const d=smooth(pts);
  const rb=mk('path',{d:d,fill:'none',stroke:'#4d4d4d','stroke-width':p.rw,opacity:0.75,'stroke-linecap':'round','clip-path':cl},g);
  
  
  const cv=mk('path',{d:d,fill:'none',stroke:'#000','stroke-width':p.lw,'clip-path':cl},g);
  
  
  p.mM.forEach((m,i)=>{
    const e=mk('line',{x1:X(m),x2:X(m),y1:Y(p.mLo[i]),y2:Y(p.mHi[i]),stroke:'#000','stroke-width':p.ew},g);
    
    
    if(p.mXE){const e2=mk('line',{x1:X(m-p.mXE[i]),x2:X(m+p.mXE[i]),y1:Y(p.mV[i]),y2:Y(p.mV[i]),stroke:'#000','stroke-width':p.ew},g);
      
      }
    const s=p.ms;const q=mk('rect',{x:X(m)-s/2,y:Y(p.mV[i])-s/2,width:s,height:s,fill:markColors[i],stroke:'#000','stroke-width':1},g);
    
    
  });
  const fr=mk('rect',{x:p.x0,y:p.y0,width:p.x1-p.x0,height:p.y1-p.y0,fill:'none',stroke:'#000','stroke-width':1},g);
  
  
  p.ticks.forEach((v,i)=>{const t=mk('text',{x:p.x0-4,y:Y(v)+p.fs*0.36,'font-size':p.fs,'text-anchor':'end'},g);t.textContent=p.tickLabels[i];
    
    
    const tk=mk('line',{x1:p.x0-2.5,x2:p.x0,y1:Y(v),y2:Y(v),stroke:'#000','stroke-width':0.8},g);
    
    });
  monthLabels.forEach((s,i)=>{const t=mk('text',{x:X(i+0.5),y:p.y1+p.mfs+3,'font-size':p.mfs,'text-anchor':'middle'},g);t.textContent=s;
    
    });
}
season({name:'cphyto-panel',x0:707,x1:1073,y0:46,y1:378,ymin:0.273,ymax:2.788,ticks:[1,2],tickLabels:['1','2'],sx:cphytoX,sy:cphytoY,cm:bigCurveM,cy:cphytoCurve,lo:cphytoLo,hi:cphytoHi,cfill:'#9a9a9a',cop:0.3,vl:3.18,sh0:3.3,sh1:7.35,mM:cphytoMarkM,mV:cphytoMarkV,mXE:cphytoMarkXE,mLo:cphytoMarkLo,mHi:cphytoMarkHi,r:2.6,rw:9,lw:2.2,ew:2.8,ms:11,fs:13,mfs:14});
season({name:'growth-rate-panel',x0:1160,x1:1535,y0:46,y1:378,ymin:-0.112,ymax:0.1218,ticks:[-0.1,-0.05,0,0.05,0.1],tickLabels:['-0.10','-0.05','0.00','0.05','0.10'],sx:rX,sy:rY,sign:true,zero:true,cm:bigCurveM,cy:rCurve,lo:rLo,hi:rHi,cop:0.3,vl:3.1,sh0:3.2,sh1:7.2,mM:rMarkM,mV:rMarkV,mXE:rMarkXE,mLo:rMarkLo,mHi:rMarkHi,r:2.5,rw:9,lw:2.2,ew:2.8,ms:11,fs:13,mfs:14});
const sm={r:2.4,rw:6,lw:1.8,ew:2.2,ms:9,fs:11.5,mfs:12,cfill:'#8a8a8a',cop:0.5};
season(Object.assign({},sm,{name:'par-panel',x0:707,x1:863,y0:440,y1:597,ymin:12,ymax:616,ticks:[200,400,600],tickLabels:['200','400','600'],sx:smallM,sy:parY,cm:curveM,cy:parCurve,lo:parLo,hi:parHi,cfill:'#6e6e6e',cop:0.9,vl:3.23,sh0:3.23,sh1:7.3,mM:parMarkM,mV:parMarkV,mLo:parMarkLo,mHi:parMarkHi}));
season(Object.assign({},sm,{name:'kd-panel',x0:935,x1:1092,y0:440,y1:598,ymin:0.144,ymax:0.456,ticks:[0.15,0.2,0.25,0.3,0.35,0.4,0.45],tickLabels:['0.15','0.20','0.25','0.30','0.35','0.40','0.45'],sx:smallM,sy:kdY,cm:curveM,cy:kdCurve,lo:kdLo,hi:kdHi,vl:3.07,sh0:3.07,sh1:7.07,mM:kdMarkM,mV:kdMarkV,mLo:kdMarkLo,mHi:kdMarkHi}));
season(Object.assign({},sm,{name:'temperature-panel',x0:1150,x1:1307,y0:440,y1:598,ymin:4,ymax:16.56,ticks:[8,12,16],tickLabels:['8','12','16'],sx:smallM,sy:tempY,cm:curveM,cy:tempCurve,lo:tempLo,hi:tempHi,vl:3.15,sh0:3.15,sh1:7.3,mM:tempMarkM,mV:tempMarkV,mLo:tempMarkLo,mHi:tempMarkHi}));
season(Object.assign({},sm,{name:'salinity-panel',x0:1375,x1:1533,y0:440,y1:598,ymin:32.89,ymax:35.04,ticks:[33,33.5,34,34.5,35],tickLabels:['33.0','33.5','34.0','34.5','35.0'],sx:smallM,sy:salY,cm:curveM,cy:salCurve,lo:salLo,hi:salHi,vl:3.27,sh0:3.27,sh1:7.27,mM:salMarkM,mV:salMarkV,mLo:salMarkLo,mHi:salMarkHi}));
season(Object.assign({},sm,{name:'temp-diff-panel',x0:707,x1:863,y0:620,y1:776,ymin:-1.68,ymax:3.9,ticks:[-1,0,1],tickLabels:['-1','0','1'],sx:smallM,sy:tdY,cm:curveM,cy:tdCurve,lo:tdLo,hi:tdHi,vl:3.23,sh0:3.23,sh1:7.3,mM:tdMarkM,mV:tdMarkV,mLo:tdMarkLo,mHi:tdMarkHi}));
season(Object.assign({},sm,{name:'sal-diff-panel',x0:935,x1:1092,y0:620,y1:776,ymin:-1.77,ymax:0.457,ticks:[-1.5,-1,-0.5,0],tickLabels:['-1.5','-1.0','-0.5','0.0'],sx:smallM,sy:sdY,cm:curveM,cy:sdCurve,lo:sdLo,hi:sdHi,vl:3.07,sh0:3.07,sh1:7.07,mM:sdMarkM,mV:sdMarkV,mLo:sdMarkLo,mHi:sdMarkHi}));
season(Object.assign({},sm,{name:'toxn-panel',x0:1150,x1:1307,y0:620,y1:776,ymin:-0.8,ymax:14.95,ticks:[0,5,10],tickLabels:['0','5','10'],sx:smallM,sy:toxnY,cm:curveM,cy:toxnCurve,lo:toxnLo,hi:toxnHi,vl:3.15,sh0:3.15,sh1:7.3,mM:toxnMarkM,mV:toxnMarkV,mLo:toxnMarkLo,mHi:toxnMarkHi}));
season(Object.assign({},sm,{name:'chl-panel',x0:1375,x1:1533,y0:620,y1:776,ymin:-0.32,ymax:9.68,ticks:[0,2.5,5,7.5],tickLabels:['0.0','2.5','5.0','7.5'],sx:smallM,sy:chlY,cm:curveM,cy:chlCurve,lo:chlLo,hi:chlHi,vl:3.27,sh0:3.27,sh1:7.27,mM:chlMarkM,mV:chlMarkV,mLo:chlMarkLo,mHi:chlMarkHi}));
</script>
</body></html>
